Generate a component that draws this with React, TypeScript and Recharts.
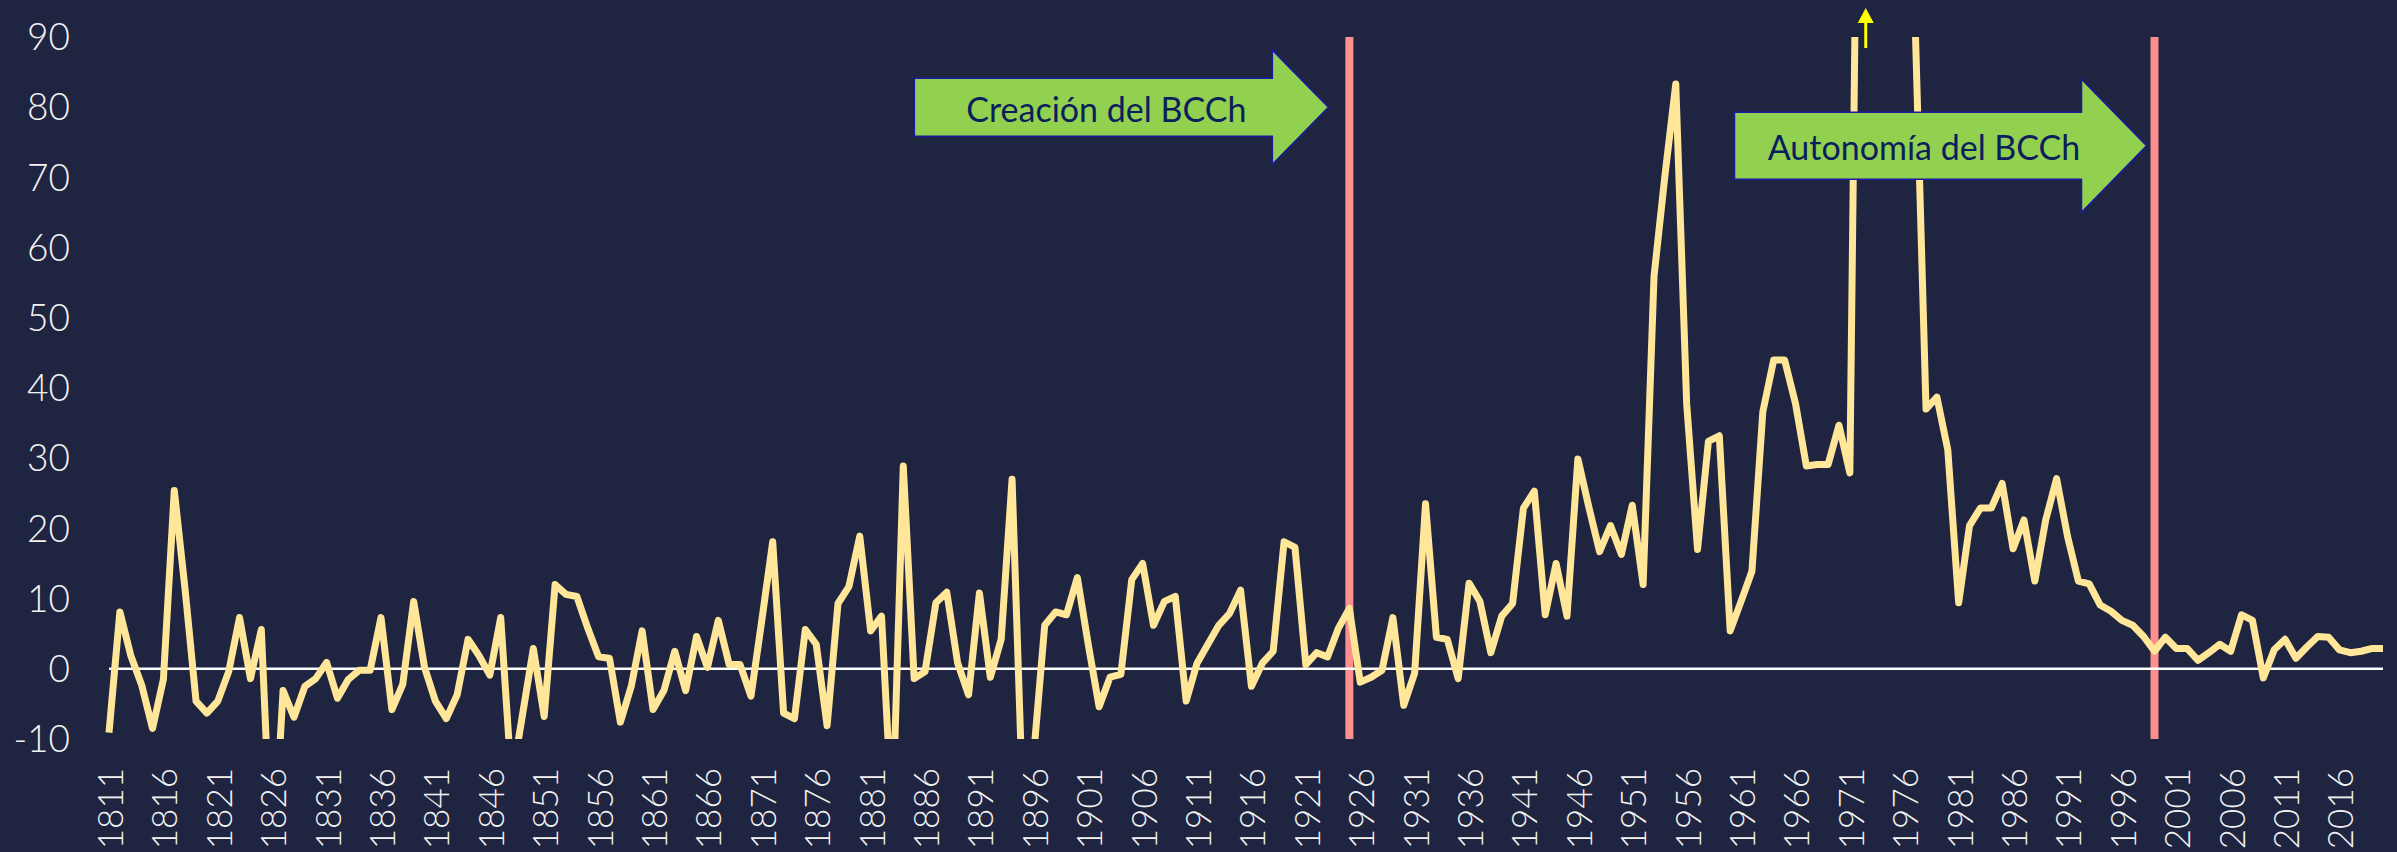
import React from 'react';
import { LineChart, Line, XAxis, YAxis, ReferenceLine } from 'recharts';

// Annual inflation (%), one value per year from 1811
const FIRST_YEAR = 1811;
const inflation = [
  -9.1, 8.1, 1.9, -2.3, -8.5, -1.5, 25.4, 11.2, -4.6, -6.3,
  -4.6, -0.4, 7.3, -1.4, 5.6, -30, -3.1, -6.9, -2.5, -1.4,
  0.9, -4.2, -1.5, -0.2, -0.2, 7.3, -5.8, -2.2, 9.6, 0.2,
  -4.6, -7.1, -3.7, 4.2, 1.9, -0.9, 7.3, -16, -6.6, 2.9,
  -6.8, 12.0, 10.6, 10.3, 5.8, 1.7, 1.5, -7.6, -2.5, 5.4,
  -5.8, -3.1, 2.5, -3.1, 4.6, 0.2, 6.9, 0.6, 0.6, -3.9,
  6.9, 18.1, -6.3, -7.1, 5.6, 3.5, -8.1, 9.3, 11.7, 18.9,
  5.4, 7.5, -22, 28.9, -1.4, -0.4, 9.4, 10.9, 0.8, -3.7,
  10.8, -1.2, 4.2, 27.0, -20, -12, 6.2, 8.1, 7.7, 13.0,
  3.5, -5.4, -1.2, -0.8, 12.7, 15.0, 6.2, 9.6, 10.3, -4.6,
  0.8, 3.5, 6.2, 7.9, 11.2, -2.5, 0.8, 2.5, 18.1, 17.3,
  0.6, 2.3, 1.7, 5.8, 8.6, -1.9, -1.2, -0.2, 7.3, -5.2,
  -0.6, 23.5, 4.5, 4.2, -1.4, 12.2, 9.6, 2.3, 7.5, 9.3,
  22.9, 25.3, 7.7, 15.0, 7.5, 29.9, 23.1, 16.7, 20.4, 16.3,
  23.3, 12.0, 55.9, 70.2, 83.3, 37.8, 17.0, 32.4, 33.2, 5.4,
  9.6, 13.9, 36.6, 44.0, 44.0, 37.8, 28.9, 29.1, 29.1, 34.7,
  27.9, 163, 508, 376, 341, 174, 92, 37.0, 38.7, 31.2,
  9.4, 20.4, 22.9, 22.9, 26.4, 17.1, 21.2, 12.5, 21.2, 27.1,
  18.9, 12.5, 12.1, 9.1, 8.2, 6.9, 6.2, 4.6, 2.5, 4.5,
  2.9, 2.9, 1.2, 2.3, 3.5, 2.5, 7.7, 6.9, -1.3, 2.7,
  4.2, 1.5, 3.1, 4.6, 4.5, 2.7, 2.3, 2.5, 2.9, 2.9,
];
const years = inflation.map((_, i) => FIRST_YEAR + i);

const Y_MIN = -10;
const Y_MAX = 90;
const yTicks = [-10, 0, 10, 20, 30, 40, 50, 60, 70, 80, 90];

const creationYear = 1925;
const creationLabel = 'Creación del BCCh';
const autonomyYear = 1999;
const autonomyLabel = 'Autonomía del BCCh';
const offChartYear = 1972; // values above the axis max

const data = years.map((year, i) => ({ year, value: inflation[i] }));

const BG = '#1f2440';
const TEXT = '#f2f2f2';

// green block arrow pointing at a vertical reference line
const EventArrow = (props: any) => {
  const { viewBox, text, level, gap, bodyLen, headLen, bodyH, headH, textShift } = props;
  if (!viewBox) return null;
  const { x, y, height } = viewBox;
  const cy = y + ((Y_MAX - level) / (Y_MAX - Y_MIN)) * height;
  const tip = x - gap;
  const hs = tip - headLen;
  const bl = hs - bodyLen;
  const pts = [
    [bl, cy - bodyH / 2], [hs, cy - bodyH / 2], [hs, cy - headH / 2], [tip, cy],
    [hs, cy + headH / 2], [hs, cy + bodyH / 2], [bl, cy + bodyH / 2],
  ].map(p => p.join(',')).join(' ');
  return (
    <g>
      <polygon points={pts} fill="#92d050" stroke="#1a1aa6" strokeWidth={1.5} />
      <text
        x={(bl + hs) / 2 + textShift}
        y={cy + 1}
        textAnchor="middle"
        dominantBaseline="central"
        fill="#0b1f5c"
        fontFamily="Lato"
        fontSize={34}
      >
        {text}
      </text>
    </g>
  );
};

const UpArrow = (props: any) => {
  const { viewBox } = props;
  if (!viewBox) return null;
  const x = viewBox.x + 5;
  const top = viewBox.y;
  return (
    <g>
      <line x1={x} y1={top + 11} x2={x} y2={top - 16} stroke="#ffff00" strokeWidth={3} />
      <polygon points={`${x},${top - 29} ${x - 8},${top - 14} ${x + 8},${top - 14}`} fill="#ffff00" />
    </g>
  );
};

const YearTick = (props: any) => {
  const { x, y, payload } = props;
  return (
    <text
      x={x}
      y={y}
      transform={`rotate(-90, ${x}, ${y})`}
      textAnchor="end"
      dominantBaseline="central"
      fill={TEXT}
      fontFamily="Lato"
      fontWeight={300}
      fontSize={35}
    >
      {payload.value}
    </text>
  );
};

export default function App() {
  return (
    <div style={{ width: 2397, height: 852, background: BG, overflow: 'hidden' }}>
      <style>{`body{margin:0;background:${BG}}`}</style>
      <LineChart width={2397} height={852} data={data} margin={{ top: 37, right: 14, left: 0, bottom: 0 }}>
        <XAxis
          dataKey="year"
          interval={4}
          axisLine={false}
          tickLine={false}
          tickSize={0}
          tickMargin={29}
          height={113}
          tick={<YearTick />}
        />
        <YAxis
          type="number"
          domain={[Y_MIN, Y_MAX]}
          ticks={yTicks}
          allowDataOverflow
          axisLine={false}
          tickLine={false}
          tickSize={0}
          tickMargin={39}
          width={109}
          tick={{ fill: TEXT, fontSize: 37, fontFamily: 'Lato', fontWeight: 300 }}
        />
        {/* pink markers sit under the series */}
        <ReferenceLine x={creationYear} stroke="#ff8f8f" strokeWidth={8} />
        <ReferenceLine x={autonomyYear} stroke="#ff8f8f" strokeWidth={8} />
        <ReferenceLine y={0} stroke="#ffffff" strokeWidth={2.5} />
        <Line
          type="linear"
          dataKey="value"
          stroke="#ffe699"
          strokeWidth={7}
          strokeLinejoin="round"
          dot={false}
          activeDot={false}
          isAnimationActive={false}
        />
        {/* arrows drawn after the line so they cover it */}
        <ReferenceLine
          x={creationYear}
          stroke="none"
          strokeOpacity={0}
          label={<EventArrow text={creationLabel} level={80} gap={21} bodyLen={358} headLen={56} bodyH={58} headH={114} textShift={13} />}
        />
        <ReferenceLine
          x={autonomyYear}
          stroke="none"
          strokeOpacity={0}
          label={<EventArrow text={autonomyLabel} level={74.5} gap={8} bodyLen={347} headLen={65} bodyH={67} headH={133} textShift={16} />}
        />
        <ReferenceLine x={offChartYear} stroke="none" strokeOpacity={0} label={<UpArrow />} />
      </LineChart>
    </div>
  );
}
